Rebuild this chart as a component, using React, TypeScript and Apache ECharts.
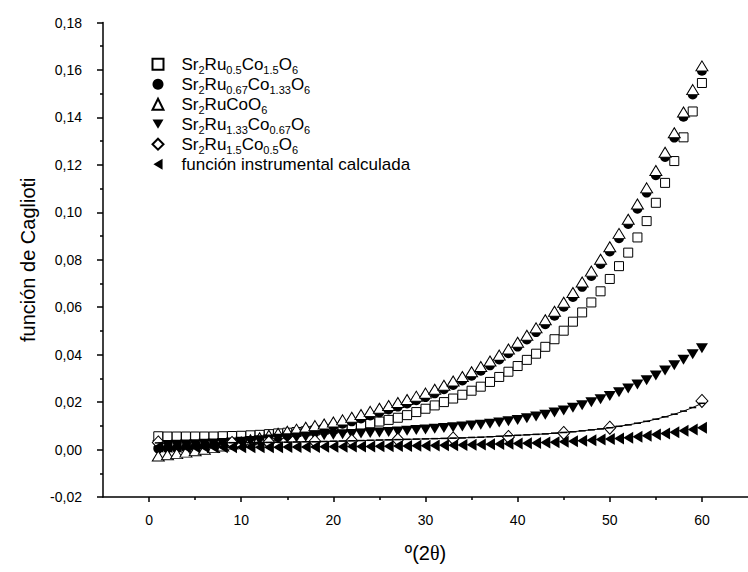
import React, { useEffect, useRef } from "react";
import * as echarts from "echarts";

const FONT = '"Liberation Sans", Arial, Helvetica, sans-serif';
const SERIF = '"Liberation Serif", "DejaVu Serif", serif';

// 2θ positions (degrees) of the computed Caglioti points
const twoTheta = [
  1, 2, 3, 4, 5, 6, 7, 8, 9, 10, 11, 12, 13, 14, 15, 16, 17, 18, 19, 20,
  21, 22, 23, 24, 25, 26, 27, 28, 29, 30, 31, 32, 33, 34, 35, 36, 37, 38, 39, 40,
  41, 42, 43, 44, 45, 46, 47, 48, 49, 50, 51, 52, 53, 54, 55, 56, 57, 58, 59, 60,
];

// Sr2Ru0.5Co1.5O6 (open squares)
const ru05co15 = [
  0.0056, 0.0055, 0.0055, 0.0055, 0.0055, 0.0055, 0.0055, 0.0056, 0.0057, 0.0058,
  0.006, 0.0062, 0.0065, 0.0068, 0.0071, 0.0074, 0.0077, 0.008, 0.0084, 0.0088,
  0.0092, 0.0098, 0.0104, 0.0111, 0.0118, 0.0125, 0.0134, 0.0145, 0.0158, 0.0172,
  0.0186, 0.02, 0.0215, 0.0231, 0.0248, 0.0265, 0.0285, 0.0306, 0.0328, 0.0352,
  0.0378, 0.0404, 0.0433, 0.0465, 0.0501, 0.0539, 0.0578, 0.062, 0.0667, 0.0719,
  0.0773, 0.083, 0.0894, 0.0963, 0.104, 0.1124, 0.1216, 0.1316, 0.1425, 0.1545,
];

// Sr2Ru0.67Co1.33O6 (filled circles)
const ru067co133 = [
  0.0004, 0.0005, 0.0006, 0.0008, 0.001, 0.0013, 0.0016, 0.002, 0.0024, 0.0029,
  0.0034, 0.004, 0.0046, 0.0053, 0.006, 0.0068, 0.0076, 0.0084, 0.0092, 0.01,
  0.0109, 0.0119, 0.0131, 0.0144, 0.0157, 0.0169, 0.0181, 0.0194, 0.0208, 0.0221,
  0.0237, 0.0254, 0.0272, 0.0291, 0.0311, 0.0332, 0.0355, 0.038, 0.0406, 0.0434,
  0.0464, 0.0495, 0.0528, 0.0564, 0.0602, 0.0643, 0.0686, 0.0732, 0.0782, 0.0835,
  0.0891, 0.0951, 0.1015, 0.1083, 0.1156, 0.1233, 0.1315, 0.1403, 0.1497, 0.1597,
];

// Sr2RuCoO6 (open triangles)
const ruCo = [
  -0.0027, -0.0022, -0.0017, -0.0011, -0.0005, 0.0001, 0.0008, 0.0015, 0.0023, 0.0032,
  0.0041, 0.005, 0.006, 0.0069, 0.0077, 0.0086, 0.0094, 0.0101, 0.0108, 0.0116,
  0.0125, 0.0136, 0.0148, 0.0161, 0.0174, 0.0186, 0.0198, 0.0211, 0.0225, 0.0238,
  0.0254, 0.0271, 0.0289, 0.0308, 0.0328, 0.035, 0.0373, 0.0398, 0.0424, 0.0452,
  0.0482, 0.0513, 0.0547, 0.0583, 0.0621, 0.0662, 0.0706, 0.0752, 0.0802, 0.0855,
  0.0911, 0.0971, 0.1035, 0.1103, 0.1176, 0.1253, 0.1335, 0.1423, 0.1517, 0.1617,
];

// Sr2Ru1.33Co0.67O6 (filled down triangles)
const ru133co067 = [
  0.0018, 0.0019, 0.002, 0.0021, 0.0022, 0.0024, 0.0026, 0.0028, 0.003, 0.0033,
  0.0036, 0.0039, 0.0042, 0.0045, 0.0048, 0.0051, 0.0054, 0.0057, 0.006, 0.0062,
  0.0064, 0.0066, 0.0068, 0.007, 0.0072, 0.0074, 0.0076, 0.0079, 0.0082, 0.0085,
  0.0088, 0.0091, 0.0094, 0.0097, 0.0101, 0.0105, 0.0109, 0.0114, 0.0119, 0.0125,
  0.0132, 0.0139, 0.0147, 0.0156, 0.0165, 0.0176, 0.0187, 0.0199, 0.0212, 0.0226,
  0.0241, 0.0257, 0.0274, 0.0292, 0.0312, 0.0333, 0.0355, 0.0378, 0.0402, 0.0427,
];

// Sr2Ru1.5Co0.5O6 (open diamonds, measured reflections)
const ru15co05Angles = [1, 9, 13, 18, 22, 27, 33, 39, 45, 50, 60];
const ru15co05 = [0.003, 0.0028, 0.003, 0.0034, 0.0037, 0.0042, 0.0047, 0.0053, 0.007, 0.0092, 0.0205];

// Caglioti curve through the Sr2Ru1.5Co0.5O6 points
const ru15co05Fit = [
  0.0028, 0.0028, 0.0028, 0.0028, 0.0028, 0.0028, 0.0028, 0.0028, 0.0029, 0.0029,
  0.0029, 0.003, 0.003, 0.0031, 0.0031, 0.0032, 0.0033, 0.0033, 0.0034, 0.0035,
  0.0036, 0.0037, 0.0038, 0.0039, 0.004, 0.0041, 0.0042, 0.0043, 0.0044, 0.0045,
  0.0046, 0.0047, 0.0048, 0.0049, 0.0051, 0.0052, 0.0054, 0.0056, 0.0058, 0.006,
  0.0062, 0.0064, 0.0066, 0.0069, 0.0072, 0.0075, 0.0079, 0.0083, 0.0087, 0.0092,
  0.0098, 0.0104, 0.0111, 0.0119, 0.0128, 0.0138, 0.0149, 0.0162, 0.0177, 0.0195,
];

// calculated instrumental function (filled left triangles)
const instrumental = [
  0.0012, 0.0011, 0.0011, 0.001, 0.001, 0.001, 0.001, 0.001, 0.001, 0.001,
  0.001, 0.001, 0.001, 0.001, 0.0011, 0.0011, 0.0011, 0.0011, 0.0012, 0.0012,
  0.0012, 0.0013, 0.0013, 0.0013, 0.0014, 0.0014, 0.0015, 0.0015, 0.0016, 0.0016,
  0.0017, 0.0018, 0.0018, 0.0019, 0.002, 0.0021, 0.0022, 0.0023, 0.0024, 0.0025,
  0.0027, 0.0028, 0.003, 0.0031, 0.0033, 0.0035, 0.0037, 0.0039, 0.0042, 0.0044,
  0.0047, 0.005, 0.0054, 0.0058, 0.0063, 0.0068, 0.0073, 0.0079, 0.0085, 0.0092,
];

const xMajorTicks = [0, 10, 20, 30, 40, 50, 60];
const xMinorTicks = [5, 15, 25, 35, 45, 55];

const seriesNames = [
  "Sr2Ru0.5Co1.5O6",
  "Sr2Ru0.67Co1.33O6",
  "Sr2RuCoO6",
  "Sr2Ru1.33Co0.67O6",
  "Sr2Ru1.5Co0.5O6",
  "función instrumental calculada",
];

const legendLabels: Record<string, string> = {
  "Sr2Ru0.5Co1.5O6": "{m|Sr}{s|2}{m|Ru}{s|0.5}{m|Co}{s|1.5}{m|O}{s|6}",
  "Sr2Ru0.67Co1.33O6": "{m|Sr}{s|2}{m|Ru}{s|0.67}{m|Co}{s|1.33}{m|O}{s|6}",
  "Sr2RuCoO6": "{m|Sr}{s|2}{m|RuCoO}{s|6}",
  "Sr2Ru1.33Co0.67O6": "{m|Sr}{s|2}{m|Ru}{s|1.33}{m|Co}{s|0.67}{m|O}{s|6}",
  "Sr2Ru1.5Co0.5O6": "{m|Sr}{s|2}{m|Ru}{s|1.5}{m|Co}{s|0.5}{m|O}{s|6}",
  "función instrumental calculada": "{m|función instrumental calculada}",
};

// legend icons for the rotated triangle markers
const downTriangleIcon = "path://M0,0L12,0L6,10Z";
const leftTriangleIcon = "path://M10,0L10,12L0,6Z";

const pairs = (xs: number[], ys: number[]) => xs.map((x, i) => [x, ys[i]]);

const black = "#000";
const openMarker = { color: "#fff", borderColor: black, borderWidth: 1, opacity: 1 };
const filledMarker = { color: black, opacity: 1 };

function buildOption(): echarts.EChartsOption {
  const tickLine = { color: black, width: 1.5 };
  return {
    animation: false,
    backgroundColor: "#fff",
    grid: { left: 103, right: -5, top: 22.5, bottom: 75 },
    xAxis: [
      {
        type: "value",
        min: -5,
        max: 65,
        position: "bottom",
        name: "{a|º(2}{t|θ}{a|)}",
        nameLocation: "middle",
        nameGap: 46,
        nameTextStyle: {
          rich: {
            a: { fontSize: 20, fontFamily: FONT, color: black },
            t: { fontSize: 20, fontFamily: SERIF, color: black },
          },
        },
        axisLine: { show: true, onZero: false, lineStyle: tickLine },
        axisTick: { show: true, inside: false, length: 5, customValues: xMajorTicks, lineStyle: tickLine },
        axisLabel: { customValues: xMajorTicks, margin: 16, fontSize: 14, fontFamily: FONT, color: black },
        splitLine: { show: false },
      } as any,
      {
        type: "value",
        min: -5,
        max: 65,
        position: "bottom",
        axisLine: { show: false, onZero: false },
        axisTick: { show: true, inside: false, length: 3, customValues: xMinorTicks, lineStyle: tickLine },
        axisLabel: { show: false },
        splitLine: { show: false },
      } as any,
    ],
    yAxis: {
      type: "value",
      min: -0.02,
      max: 0.18,
      interval: 0.02,
      name: "función de Caglioti",
      nameLocation: "middle",
      nameGap: 65,
      nameRotate: 90,
      nameTextStyle: { fontSize: 20, fontFamily: FONT, color: black },
      axisLine: { show: true, onZero: false, lineStyle: tickLine },
      axisTick: { show: true, inside: false, length: 6, lineStyle: tickLine },
      minorTick: { show: true, splitNumber: 2, length: 3, lineStyle: tickLine },
      axisLabel: {
        margin: 21,
        fontSize: 14,
        fontFamily: FONT,
        color: black,
        formatter: (v: number) => v.toFixed(2).replace(".", ","),
      },
      splitLine: { show: false },
      minorSplitLine: { show: false },
    },
    legend: {
      data: [
        { name: seriesNames[0] },
        { name: seriesNames[1] },
        { name: seriesNames[2] },
        { name: seriesNames[3], icon: downTriangleIcon },
        { name: seriesNames[4] },
        { name: seriesNames[5], icon: leftTriangleIcon },
      ],
      orient: "vertical",
      left: 151.5,
      top: 55.7,
      padding: 0,
      itemGap: 0.5,
      itemWidth: 11,
      itemHeight: 11,
      selectedMode: false,
      formatter: (name: string) => legendLabels[name] ?? name,
      textStyle: {
        padding: [0, 0, 0, 13],
        rich: {
          m: { fontSize: 17, fontFamily: FONT, color: black, lineHeight: 22, verticalAlign: "middle" },
          s: { fontSize: 11, fontFamily: FONT, color: black, lineHeight: 9, verticalAlign: "bottom" },
        },
      },
    },
    series: [
      {
        name: seriesNames[0],
        type: "scatter",
        data: pairs(twoTheta, ru05co15),
        symbol: "rect",
        symbolSize: 9,
        itemStyle: openMarker,
      },
      {
        name: seriesNames[1],
        type: "scatter",
        data: pairs(twoTheta, ru067co133),
        symbol: "circle",
        symbolSize: 10,
        itemStyle: filledMarker,
      },
      {
        name: seriesNames[2],
        type: "scatter",
        data: pairs(twoTheta, ruCo),
        symbol: "triangle",
        symbolSize: [12, 10],
        itemStyle: openMarker,
      },
      {
        name: seriesNames[3],
        type: "scatter",
        data: pairs(twoTheta, ru133co067),
        symbol: "triangle",
        symbolRotate: 180,
        symbolSize: [12, 10],
        itemStyle: filledMarker,
      },
      {
        name: "ajuste",
        type: "line",
        data: pairs(twoTheta, ru15co05Fit),
        symbol: "rect",
        symbolSize: [7, 1.5],
        showSymbol: true,
        lineStyle: { color: black, width: 1 },
        itemStyle: { color: black, opacity: 1 },
      },
      {
        name: seriesNames[4],
        type: "scatter",
        data: pairs(ru15co05Angles, ru15co05),
        symbol: "diamond",
        symbolSize: [12, 13],
        itemStyle: openMarker,
      },
      {
        name: seriesNames[5],
        type: "scatter",
        data: pairs(twoTheta, instrumental),
        symbol: "triangle",
        symbolRotate: 90,
        symbolSize: [12, 10],
        itemStyle: filledMarker,
      },
    ],
  } as echarts.EChartsOption;
}

export default function App() {
  const ref = useRef<HTMLDivElement>(null);
  useEffect(() => {
    if (!ref.current) return;
    const chart = echarts.init(ref.current, null, { renderer: "svg" });
    chart.setOption(buildOption());
    return () => chart.dispose();
  }, []);
  return (
    <div
      ref={ref}
      style={{ position: "absolute", left: 0, top: 0, width: 748, height: 572, background: "#fff" }}
    />
  );
}
